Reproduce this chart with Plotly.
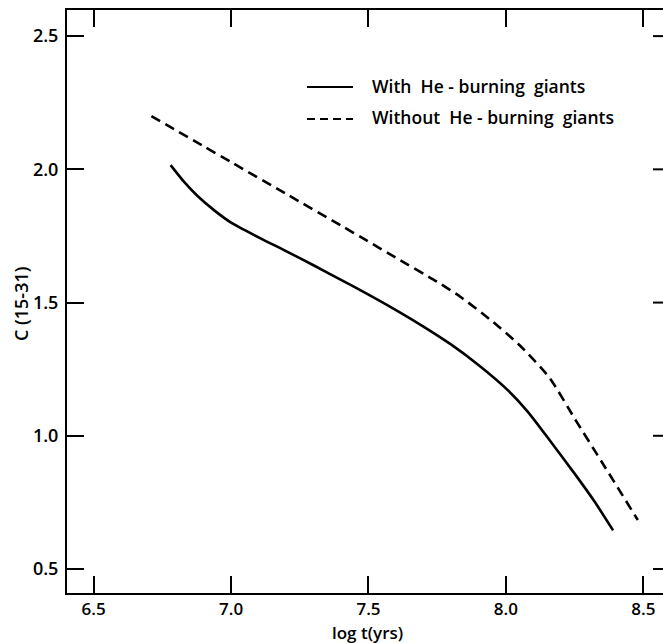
import plotly.graph_objects as go

# Data
x_with = [6.78, 6.83, 6.88, 6.94, 7.00, 7.10, 7.20, 7.30, 7.40, 7.50, 7.60, 7.70, 7.80, 7.90, 8.00, 8.08, 8.16, 8.25, 8.32, 8.39]
y_with = [2.016, 1.952, 1.898, 1.845, 1.800, 1.745, 1.693, 1.640, 1.585, 1.530, 1.472, 1.410, 1.343, 1.266, 1.178, 1.090, 0.982, 0.858, 0.757, 0.645]

x_without = [6.71, 6.90, 7.00, 7.20, 7.40, 7.49, 7.60, 7.75, 7.834, 7.95, 8.05, 8.16, 8.25, 8.35, 8.48]
y_without = [2.20, 2.087, 2.027, 1.908, 1.789, 1.735, 1.668, 1.578, 1.522, 1.43, 1.34, 1.216, 1.065, 0.90, 0.684]

x_ticks = [6.5, 7.0, 7.5, 8.0, 8.5]
x_ticklabels = ["6.5", "7.0", "7.5", "8.0", "8.5"]
y_ticks = [0.5, 1.0, 1.5, 2.0, 2.5]
y_ticklabels = ["0.5", "1.0", "1.5", "2.0", "2.5"]

legend_labels = ["With&nbsp; He - burning&nbsp; giants", "Without&nbsp; He - burning&nbsp; giants"]

FONT = "Open Sans"
WEIGHT = 600
W, H = 663, 643
L, T, B = 67, 10, 50

fig = go.Figure()
fig.add_trace(go.Scatter(x=x_with, y=y_with, mode="lines",
                         line=dict(color="black", width=2.6, shape="spline", smoothing=0.7),
                         showlegend=False))
fig.add_trace(go.Scatter(x=x_without, y=y_without, mode="lines",
                         line=dict(color="black", width=2.6, dash="10px,6px", shape="spline", smoothing=0.6),
                         showlegend=False))

# right-side inward ticks (right axis line lies beyond the picture edge)
for yv in y_ticks:
    fig.add_shape(type="line", xref="paper", yref="y",
                  x0=(653 - L) / (W - L), x1=1.0, y0=yv, y1=yv,
                  line=dict(color="black", width=2))

def px2paper_x(px):
    return (px - L) / (W - L)

def px2paper_y(py):
    return 1 - (py - T) / (H - T - B)

# legend samples and texts
fig.add_shape(type="line", xref="paper", yref="paper",
              x0=px2paper_x(307), x1=px2paper_x(353), y0=px2paper_y(87), y1=px2paper_y(87),
              line=dict(color="black", width=2))
fig.add_shape(type="line", xref="paper", yref="paper",
              x0=px2paper_x(307), x1=px2paper_x(353), y0=px2paper_y(119), y1=px2paper_y(119),
              line=dict(color="black", width=2, dash="8px,5px"))
for label, py in zip(legend_labels, [86, 117]):
    fig.add_annotation(text=label, xref="paper", yref="paper",
                       x=px2paper_x(370), y=px2paper_y(py), xanchor="left", yanchor="middle",
                       showarrow=False, font=dict(family=FONT, size=17.5, color="black", weight=WEIGHT))

# axis titles
fig.add_annotation(text="log t(yrs)", xref="paper", yref="paper",
                   x=px2paper_x(367), y=px2paper_y(632), xanchor="center", yanchor="middle",
                   showarrow=False, font=dict(family=FONT, size=17, color="black", weight=WEIGHT))
fig.add_annotation(text="C (15-31)", xref="paper", yref="paper",
                   x=px2paper_x(21), y=px2paper_y(304), xanchor="center", yanchor="middle",
                   textangle=-90, showarrow=False, font=dict(family=FONT, size=18, color="black", weight=WEIGHT))

fig.update_xaxes(range=[6.403, 6.5 + (W - 93.3) / 275.0],
                 tickvals=x_ticks, ticktext=x_ticklabels,
                 ticks="inside", ticklen=17, tickwidth=2, tickcolor="black",
                 showline=True, linewidth=2, linecolor="black", mirror="ticks",
                 showgrid=False, zeroline=False,
                 tickfont=dict(family=FONT, size=17, color="black", weight=WEIGHT),
                 ticklabelstandoff=0)
fig.update_yaxes(range=[0.41, 2.598],
                 tickvals=y_ticks, ticktext=y_ticklabels,
                 ticks="inside", ticklen=17, tickwidth=2, tickcolor="black",
                 showline=True, linewidth=2, linecolor="black", mirror=False,
                 showgrid=False, zeroline=False,
                 tickfont=dict(family=FONT, size=18, color="black", weight=WEIGHT),
                 ticklabelstandoff=3)

fig.update_layout(width=W, height=H,
                  margin=dict(l=L, r=0, t=T, b=B),
                  plot_bgcolor="white", paper_bgcolor="white",
                  showlegend=False)

fig.write_html("out.html")
